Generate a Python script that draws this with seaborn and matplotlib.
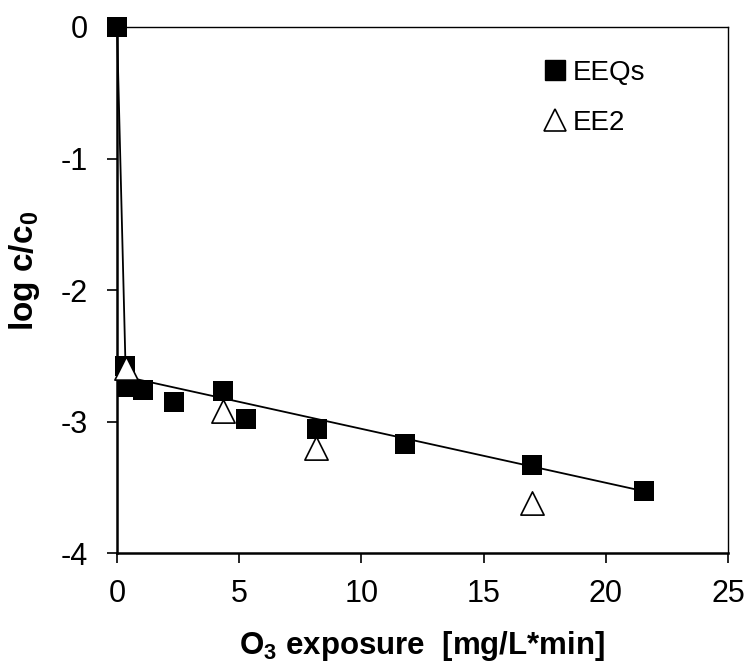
import matplotlib
matplotlib.use("Agg")
import matplotlib.pyplot as plt
import seaborn as sns
import pandas as pd
from matplotlib.lines import Line2D

# Data
eeq_x = [0.0, 0.33, 0.41, 1.07, 2.34, 4.34, 5.29, 8.2, 11.8, 17.0, 21.56]
eeq_y = [0.0, -2.58, -2.74, -2.76, -2.85, -2.77, -2.98, -3.06, -3.17, -3.33, -3.53]
ee2_x = [0.36, 4.34, 8.16, 17.0]
ee2_y = [-2.59, -2.92, -3.20, -3.62]
fit_x = [0.0, 0.36, 21.56]
fit_y = [0.0, -2.66, -3.53]
x_ticks = [0, 5, 10, 15, 20, 25]
y_ticks = [-4, -3, -2, -1, 0]

sns.set_style("white")
plt.rcParams["font.family"] = ["Liberation Sans", "DejaVu Sans"]
plt.rcParams["axes.unicode_minus"] = False
plt.rcParams["text.color"] = "black"
plt.rcParams["axes.labelcolor"] = "black"
plt.rcParams["mathtext.fontset"] = "custom"
plt.rcParams["mathtext.rm"] = "Liberation Sans:bold"
plt.rcParams["mathtext.it"] = "Liberation Sans:bold"
plt.rcParams["mathtext.bf"] = "Liberation Sans:bold"

fig = plt.figure(figsize=(7.47, 6.65), dpi=100)
ax = fig.add_axes([0.1566, 0.1684, 0.818, 0.791])

df_eeq = pd.DataFrame({"x": eeq_x, "y": eeq_y})
df_ee2 = pd.DataFrame({"x": ee2_x, "y": ee2_y})
df_fit = pd.DataFrame({"x": fit_x, "y": fit_y})

sns.lineplot(data=df_fit, x="x", y="y", ax=ax, color="black", lw=1.3,
             sort=False, estimator=None, zorder=2)
sns.scatterplot(data=df_eeq, x="x", y="y", ax=ax, marker="s", s=210,
                color="black", edgecolor="black", linewidth=0, zorder=3)
sns.scatterplot(data=df_ee2, x="x", y="y", ax=ax, marker="^", s=280,
                facecolor="white", edgecolor="black", linewidth=1.2, zorder=4)
for coll in ax.collections:
    coll.set_clip_on(False)
for ln in ax.lines:
    ln.set_clip_on(False)

ax.set_xlim(0, 25)
ax.set_ylim(-4, 0)
ax.set_xticks(x_ticks)
ax.set_yticks(y_ticks)
ax.tick_params(axis="both", direction="out", length=7, width=1.2,
               labelsize=22, left=True, bottom=True, colors="black")
ax.tick_params(axis="y", pad=14)
ax.tick_params(axis="x", pad=12)
for side in ["left", "bottom"]:
    ax.spines[side].set_linewidth(1.8)
    ax.spines[side].set_color("black")
for side in ["top", "right"]:
    ax.spines[side].set_linewidth(1.0)
    ax.spines[side].set_color("black")

ax.set_xlabel("O$_3$ exposure  [mg/L*min]", fontsize=22.5, fontweight="bold", labelpad=14)
ax.set_ylabel("log c/c$_0$", fontsize=24, fontweight="bold")
ax.yaxis.set_label_coords(-0.123, 0.536)

handles = [
    Line2D([], [], marker="s", ls="none", color="black", markersize=14),
    Line2D([], [], marker="^", ls="none", markerfacecolor="white",
           markeredgecolor="black", markersize=16, markeredgewidth=1.2),
]
leg = ax.legend(handles, ["EEQs", "EE2"], loc="upper right",
                bbox_to_anchor=(0.906, 0.985), frameon=False, fontsize=20,
                handletextpad=0.15, labelspacing=0.85, handlelength=1.0)
for t in leg.get_texts():
    t.set_color("black")

fig.savefig("out.png", dpi=100)
